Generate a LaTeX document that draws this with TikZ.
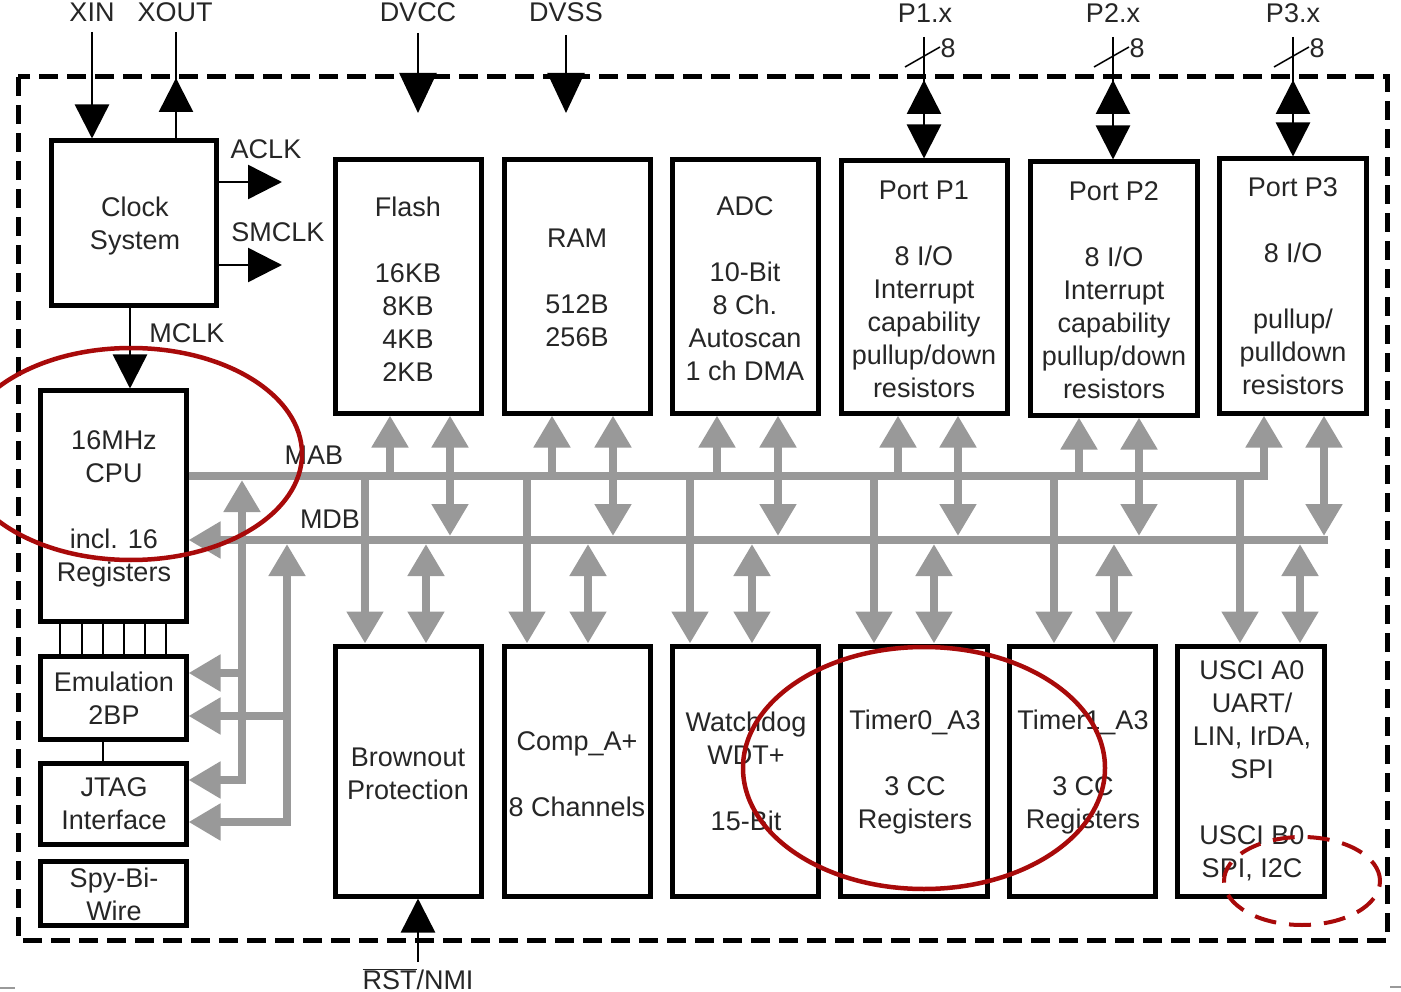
\documentclass[tikz,border=0pt]{standalone}
\usepackage{fontspec}
\setmainfont{Liberation Sans}
\usetikzlibrary{arrows.meta}
\definecolor{bus}{gray}{0.6}
\definecolor{redink}{RGB}{168,10,10}
\definecolor{ink}{gray}{0.15}
\begin{document}
\begin{tikzpicture}[x=1pt,y=-1pt,
  box/.style={draw=black,line width=5pt,inner sep=0pt},
  txt/.style={align=center,inner sep=0pt,font=\fontsize{27}{33}\selectfont,text=ink},
  gl/.style={draw=bus,line width=8pt},
  pinline/.style={draw=black,line width=2.5pt},
  gt/.tip={Triangle[length=32pt,width=35pt]},
  bt/.tip={Triangle[length=34pt,width=34pt]},
  vt/.tip={Triangle[length=40pt,width=37pt]},
  circ/.style={draw=redink,line width=4.5pt},
  dcirc/.style={draw=redink,line width=4pt,dash pattern=on 22pt off 13pt}]
\useasboundingbox (0,0) rectangle (1401,992);
\clip (0,0) rectangle (1401,992);
\fill[white] (0,0) rectangle (1401,992);

% outer dashed border
\draw[line width=5pt,dash pattern=on 19pt off 9pt] (18,77) rectangle (1387,940);

% boxes
\node[box,minimum width=165pt,minimum height=165pt] (clock) at (133.5,223.5) {};
\node[box,minimum width=146pt,minimum height=230pt] (cpu) at (113,506) {};
\node[box,minimum width=146pt,minimum height=83pt] (emu) at (113,697.5) {};
\node[box,minimum width=146pt,minimum height=81pt] (jtag) at (113,803.5) {};
\node[box,minimum width=146pt,minimum height=64pt] (spy) at (113,893) {};
\node[box,minimum width=146pt,minimum height=253pt] (flash) at (408,286.5) {};
\node[box,minimum width=146pt,minimum height=253pt] (ram) at (577,286.5) {};
\node[box,minimum width=146pt,minimum height=253pt] (adc) at (745,286.5) {};
\node[box,minimum width=166pt,minimum height=252pt] (p1) at (924,287) {};
\node[box,minimum width=167pt,minimum height=253pt] (p2) at (1113.5,288.5) {};
\node[box,minimum width=147pt,minimum height=254pt] (p3) at (1292.5,286) {};
\node[box,minimum width=146pt,minimum height=250pt] (brown) at (408,771) {};
\node[box,minimum width=146pt,minimum height=250pt] (comp) at (577,771) {};
\node[box,minimum width=146pt,minimum height=250pt] (wdt) at (745,771) {};
\node[box,minimum width=147pt,minimum height=250pt] (tim0) at (913.5,771) {};
\node[box,minimum width=146pt,minimum height=250pt] (tim1) at (1082,771) {};
\node[box,minimum width=147pt,minimum height=250pt] (usci) at (1250.5,771) {};

% box texts
\node[txt,anchor=north] (clockT) at (135,196.3) {Clock\\System};
\node[txt,anchor=north] (flashT) at (408,196.3) {Flash\\\mbox{}\\16KB\\8KB\\4KB\\2KB};
\node[txt,anchor=north] (ramT) at (577,228.3) {RAM\\\mbox{}\\512B\\256B};
\node[txt,anchor=north] (adcT) at (745,196.3) {ADC\\\mbox{}\\10-Bit\\8 Ch.\\Autoscan\\1 ch DMA};
\node[txt,anchor=north] (p1T) at (924,180.3) {Port P1\\\mbox{}\\8 I/O\\Interrupt\\capability\\pullup/down\\resistors};
\node[txt,anchor=north] (p2T) at (1114,181) {Port P2\\\mbox{}\\8 I/O\\Interrupt\\capability\\pullup/down\\resistors};
\node[txt,anchor=north] (p3T) at (1293,177.3) {Port P3\\\mbox{}\\8 I/O\\\mbox{}\\pullup/\\pulldown\\resistors};
\node[txt,anchor=north] (cpuT) at (114,430.3) {16MHz\\CPU\\\mbox{}\\incl. 16\\Registers};
\node[txt,anchor=north] (emuT) at (114,672) {Emulation\\2BP};
\node[txt,anchor=north] (jtagT) at (114,777) {JTAG\\Interface};
\node[txt,anchor=north] (spyT) at (114,867.5) {Spy-Bi-\\Wire};
\node[txt,anchor=north] (brownT) at (408,747.3) {Brownout\\Protection};
\node[txt,anchor=north] (compT) at (577,731.3) {Comp\_A+\\\mbox{}\\8 Channels};
\node[txt,anchor=north] (wdtT) at (746,711.3) {Watchdog\\WDT+\\\mbox{}\\15-Bit};
\node[txt,anchor=north] (tim0T) at (915,710) {Timer0\_A3\\\mbox{}\\3 CC\\Registers};
\node[txt,anchor=north] (tim1T) at (1083,710) {Timer1\_A3\\\mbox{}\\3 CC\\Registers};
\node[txt,anchor=north] (usciT) at (1252,660.3) {USCI A0\\UART/\\LIN, IrDA,\\SPI\\\mbox{}\\USCI B0\\SPI, I2C};

% outside labels
\node[txt,anchor=base] (xinL) at (92,22) {XIN};
\node[txt,anchor=base] (xoutL) at (175,22) {XOUT};
\node[txt,anchor=base] (dvccL) at (418,22) {DVCC};
\node[txt,anchor=base] (dvssL) at (566,22) {DVSS};
\node[txt,anchor=base] (p1L) at (925,23) {P1.x};
\node[txt,anchor=base] (p2L) at (1113,23) {P2.x};
\node[txt,anchor=base] (p3L) at (1293,23) {P3.x};
\node[txt,anchor=base] (aclkL) at (266,159) {ACLK};
\node[txt,anchor=base] (smclkL) at (278,242) {SMCLK};
\node[txt,anchor=base] (mclkL) at (187,343) {MCLK};
\node[txt,anchor=base] (mabL) at (314,464) {MAB};
\node[txt,anchor=base] (mdbL) at (330,528) {MDB};
\node[txt,anchor=base] (rstL) at (418,989) {$\overline{\hbox{RST}}$/NMI};

% clock pins
\coordinate (xin) at (92,32);
\draw[pinline,-bt] (xin) -- (xin |- clock.north);
\coordinate (xout) at (176,32);
\draw[pinline] (xout |- clock.north) -- (xout);
\coordinate (xoutTip) at (176,78);
\draw[pinline,-bt] (xoutTip) ++(0,34) -- (xoutTip);
\coordinate (aclk) at (282,182);
\draw[pinline,-bt] (clock.east |- aclk) -- (aclk);
\coordinate (smclk) at (282,265);
\draw[pinline,-bt] (clock.east |- smclk) -- (smclk);
\draw[pinline,-bt] ([xshift=-3.5pt]clock.south) -- ([xshift=17pt]cpu.north);

% supply pins
\coordinate (dvcc) at (418,33);
\draw[pinline,-vt] (dvcc) -- ++(0,80);
\coordinate (dvss) at (566,35);
\draw[pinline,line width=2pt,-vt] (dvss) -- ++(0,78);
\coordinate (rst) at (418,962);
\draw[pinline,-bt] (rst) -- (rst |- brown.south);

% port pins
\foreach \px/\pb in {924/p1,1113/p2,1293/p3}{
  \coordinate (pin\pb) at (\px,37);
  \draw[pinline,-bt] (pin\pb) -- (pin\pb |- \pb.north);
  \draw[pinline,-bt] (pin\pb) ++(0,75) -- ++(0,-32);
  \draw[line width=1.5pt] (pin\pb) ++(-19,30) -- ++(35,-20);
  \node[txt] (eight\pb) at ([shift={(24,11)}]pin\pb) {8};
}

% thin lines CPU - Emulation - JTAG
\foreach \dx in {-53,-31,-10,11,32,53}
  \draw[line width=1.5pt] ([xshift=\dx pt]cpu.south) -- ([xshift=\dx pt]emu.north);
\draw[line width=1.5pt] ([xshift=-10pt]emu.south) -- ([xshift=-10pt]jtag.north);

% buses
\coordinate (mab) at (0,476);
\coordinate (mdb) at (0,540);
\coordinate (mabEnd) at (1264,476);
\draw[gl,-gt] (cpu.east |- mab) -- (mabEnd) -- (mabEnd |- p3.south);
\coordinate (mdbEnd) at (1328,540);
\draw[gl,-gt] (mdbEnd) -- (cpu.east |- mdb);

\foreach \x/\b in {390/flash,552/ram,717/adc,898/p1,1079/p2}{
  \coordinate (ta\x) at (\x,476);
  \draw[gl,-gt] (ta\x) -- (ta\x |- \b.south);
}
\foreach \x/\b in {450/flash,613/ram,778/adc,958/p1,1139/p2,1324/p3}{
  \coordinate (tb\x) at (\x,536);
  \draw[gl,gt-gt] (tb\x |- \b.south) -- (tb\x);
}
\foreach \x/\b in {365/brown,527/comp,690/wdt,874/tim0,1054/tim1,1240/usci}{
  \coordinate (ba\x) at (\x,476);
  \draw[gl,-gt] (ba\x) -- (ba\x |- \b.north);
}
\foreach \x/\b in {426/brown,588/comp,752/wdt,934/tim0,1114/tim1,1300/usci}{
  \coordinate (bb\x) at (\x,544);
  \draw[gl,gt-gt] (bb\x) -- (bb\x |- \b.north);
}

% debug buses
\coordinate (va) at (242,480);
\coordinate (vab) at (242,780);
\coordinate (vam) at (242,673);
\draw[gl,gt-gt] (va) -- (vab) -- (jtag.east |- vab);
\draw[gl,-gt] (vam) -- (emu.east |- vam);
\coordinate (vb) at (287,544);
\coordinate (vbb) at (287,822);
\coordinate (vbm) at (287,716);
\draw[gl,gt-gt] (vb) -- (vbb) -- (jtag.east |- vbb);
\draw[gl,-gt] (vbm) -- (emu.east |- vbm);

% red marks
\draw[circ] (131,454) ellipse [x radius=171pt,y radius=106pt];
\draw[circ] (924,768) ellipse [x radius=181pt,y radius=121pt];
\draw[dcirc] (1302,881) ellipse [x radius=78pt,y radius=44pt];

% crop artefacts
\draw[bus,line width=1.5pt] (0,988) -- (15,988);
\draw[bus,line width=1.5pt] (1390,987) -- (1401,987);
\end{tikzpicture}
\end{document}
